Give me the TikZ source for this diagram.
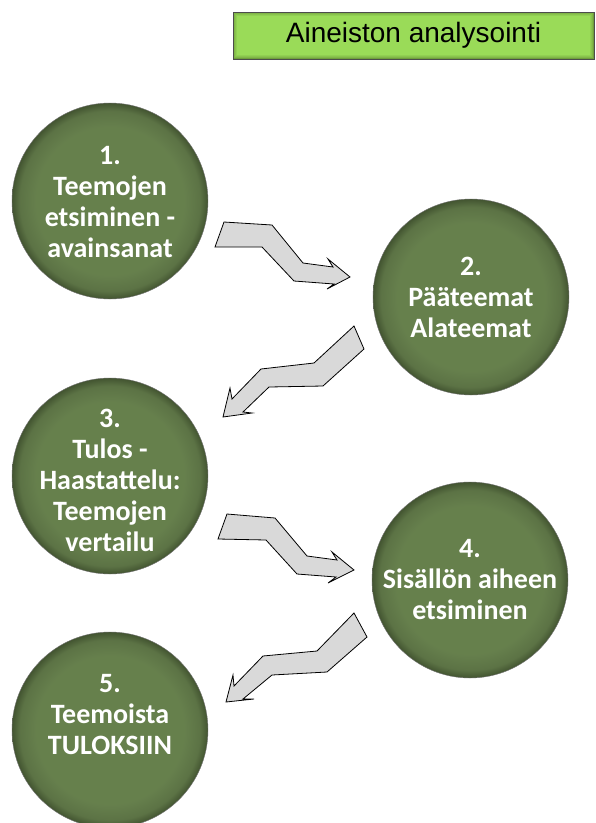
\documentclass[tikz,border=0pt]{standalone}
\usepackage{fontspec}
\setmainfont{Carlito}
\newfontfamily\titlefont{Liberation Sans}
\definecolor{arrowgrey}{HTML}{D9D9D9}
\definecolor{titlegreen}{HTML}{9ADB58}
\definecolor{titleedge}{HTML}{6F9E3C}
% flat olive centre, darker rim
\pgfdeclareradialshading{olivedisc}{\pgfpoint{0bp}{0bp}}{%
  rgb(0bp)=(.40,.50,.30);
  rgb(19bp)=(.40,.50,.30);
  rgb(23bp)=(.36,.45,.27);
  rgb(25bp)=(.26,.33,.19);
  rgb(50bp)=(.26,.33,.19)}
\tikzset{
  stepdisc/.style={circle, minimum size=196pt, inner sep=0pt, shading=olivedisc, draw=black!55, line width=0.4pt},
  steptext/.style={text=white, font=\bfseries\fontsize{28}{31}\selectfont, align=center, inner sep=0pt},
  zigarrow/.style={fill=arrowgrey, draw=black, line width=0.8pt, line join=miter},
}
\begin{document}
\begin{tikzpicture}[x=1pt, y=-1pt]
\useasboundingbox (0,0) rectangle (596,823);
\clip (0,0) rectangle (596,823);

% title bar with a soft inner edge
\node[draw=black!70, line width=0.6pt, fill=titleedge, minimum width=361pt, minimum height=47pt, inner sep=0pt] (title) at (413.5,35.5) {};
\foreach \i/\c in {1/40,2/60,3/80,4/100}
  \fill[titlegreen!\c!titleedge] ([xshift=\i pt, yshift=-\i pt]title.north west) rectangle ([xshift=-\i pt, yshift=\i pt]title.south east);
\node[font=\titlefont\fontsize{28}{30}\selectfont, inner sep=0pt] (titletext) at (title.center) {Aineiston analysointi};

% step discs
\node[stepdisc] (s1) at (110,201) {};
\node[stepdisc] (s2) at (471,297) {};
\node[stepdisc] (s3) at (110,476) {};
\node[stepdisc] (s4) at (470,580) {};
\node[stepdisc] (s5) at (110,730) {};

\node[steptext] (t1) at (110,202) {1.\\Teemojen\\etsiminen -\\avainsanat};
\node[steptext] (t2) at (471,297) {2.\\Pääteemat\\Alateemat};
\node[steptext] (t3) at (110,480) {3.\\Tulos -\\Haastattelu:\\Teemojen\\vertailu};
\node[steptext] (t4) at (470,580) {4.\\Sisällön aiheen\\etsiminen};
\node[steptext] (t5) at (110,715) {5.\\Teemoista\\TULOKSIIN};

% zigzag arrows between the steps
\draw[zigarrow] (224,222) -- (272,225) -- (303,263) -- (333,267) -- (328,259) -- (350,277)
  -- (327,289) -- (334,284) -- (294,281) -- (262,247) -- (215,247) -- cycle;
\draw[zigarrow] (354,326) -- (364,349) -- (323,386) -- (269,387) -- (243,412) -- (252,413)
  -- (223,417) -- (230,388) -- (232,399) -- (261,369) -- (314,363) -- cycle;
\draw[zigarrow] (227,514) -- (275,518) -- (307,556) -- (337,560) -- (332,552) -- (354,570)
  -- (328,583) -- (336,577) -- (297,574) -- (266,540) -- (218,539) -- cycle;
\draw[zigarrow] (354,613) -- (367,637) -- (327,672) -- (272,675) -- (243,699) -- (254,699)
  -- (226,702) -- (233,675) -- (234,686) -- (263,656) -- (317,651) -- cycle;
\end{tikzpicture}
\end{document}
